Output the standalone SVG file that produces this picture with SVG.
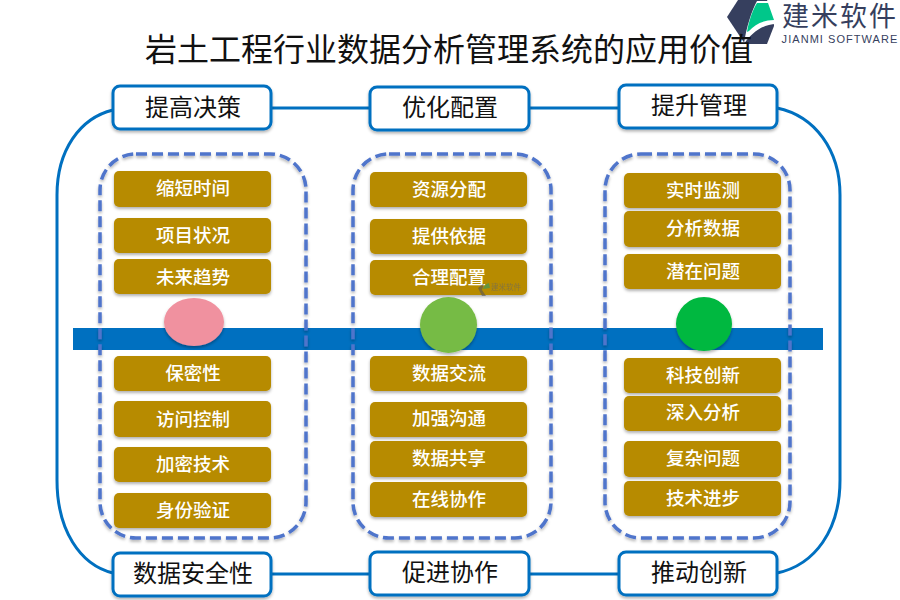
<svg xmlns="http://www.w3.org/2000/svg" width="900" height="600" viewBox="0 0 900 600">
<defs>
<filter id="sh" x="-10%" y="-20%" width="120%" height="150%"><feDropShadow dx="0" dy="2" stdDeviation="1.5" flood-color="#000" flood-opacity="0.3"/></filter>
</defs>
<style>
text{font-family:"Noto Sans CJK SC","Liberation Sans",sans-serif;text-anchor:middle}
.hb{fill:#fff;stroke:#0070c0;stroke-width:3;filter:url(#sh)}
.ht{font-size:24px;fill:#111}
.ib{fill:#b78b00;filter:url(#sh)}
.it{font-size:18.5px;fill:#fff;font-weight:500}
.dash{fill:none;stroke:#4f74cb;stroke-width:3.5;stroke-dasharray:11 5;filter:url(#sh)}
.link{fill:none;stroke:#0070c0;stroke-width:3}
</style>
<rect width="900" height="600" fill="#fff"/>
<g id="logo">
<path d="M738 0H767L774 17V26L767 44H745L727 17Z" fill="#363f5e"/>
<path d="M744 44C746 28 752 10 757 1H776V24C764 24 752 32 744 44Z" fill="#fff"/>
<path d="M747 32C749 20 753 9 757 3H768L774 20C764 20 755 24 749 31Z" fill="#00c78a"/>
<text x="840" y="26" style="font-size:27px;letter-spacing:2px" fill="#363f5e">建米软件</text>
<text x="840" y="43" style="font-family:'Liberation Sans',sans-serif;font-size:11px;letter-spacing:1.05px" fill="#363f5e">JIANMI SOFTWARE</text>
</g>
<text id="title" x="449" y="61" style="font-size:32px" fill="#111">岩土工程行业数据分析管理系统的应用价值</text>
<g id="connectors">
<path class="link" d="M113 110C80 118 57 150 57 195V480C57 530 80 565 113 573"/>
<path class="link" d="M271 108H370M529 108H619"/>
<path class="link" d="M271 574H370M529 574H619"/>
<path class="link" d="M777 108C815 116 840 150 840 195V480C840 530 815 565 777 573"/>
</g>
<rect id="band" x="73" y="328" width="750" height="22" fill="#0070c0"/>
<g id="group-1"><rect class="dash" x="100" y="154" width="206" height="384" rx="36"/></g>
<g id="group-2"><rect class="dash" x="353" y="154" width="198" height="384" rx="36"/></g>
<g id="group-3"><rect class="dash" x="605" y="154" width="185" height="384" rx="36"/></g>
<g id="h1"><rect class="hb" x="113" y="86" width="158" height="43" rx="7"/><text class="ht" x="193" y="116">提高决策</text></g>
<g id="h2"><rect class="hb" x="370" y="87" width="159" height="43" rx="7"/><text class="ht" x="450" y="116">优化配置</text></g>
<g id="h3"><rect class="hb" x="619" y="85" width="158" height="43" rx="7"/><text class="ht" x="699" y="114">提升管理</text></g>
<g id="h4"><rect class="hb" x="113" y="553" width="158" height="43" rx="7"/><text class="ht" x="193" y="582">数据安全性</text></g>
<g id="h5"><rect class="hb" x="370" y="552" width="159" height="43" rx="7"/><text class="ht" x="450" y="581">促进协作</text></g>
<g id="h6"><rect class="hb" x="619" y="552" width="158" height="43" rx="7"/><text class="ht" x="699" y="581">推动创新</text></g>
<g id="a1"><rect class="ib" x="114" y="171" width="157" height="36" rx="5"/><text class="it" x="193" y="195">缩短时间</text></g>
<g id="a2"><rect class="ib" x="114" y="218" width="157" height="35" rx="5"/><text class="it" x="193" y="242">项目状况</text></g>
<g id="a3"><rect class="ib" x="114" y="259" width="157" height="35" rx="5"/><text class="it" x="193" y="284">未来趋势</text></g>
<g id="a4"><rect class="ib" x="114" y="356" width="157" height="35" rx="5"/><text class="it" x="193" y="380">保密性</text></g>
<g id="a5"><rect class="ib" x="114" y="401" width="157" height="36" rx="5"/><text class="it" x="193" y="426">访问控制</text></g>
<g id="a6"><rect class="ib" x="114" y="447" width="157" height="35" rx="5"/><text class="it" x="193" y="471">加密技术</text></g>
<g id="a7"><rect class="ib" x="114" y="493" width="157" height="35" rx="5"/><text class="it" x="193" y="517">身份验证</text></g>
<g id="b1"><rect class="ib" x="370" y="172" width="157" height="35" rx="5"/><text class="it" x="449" y="196">资源分配</text></g>
<g id="b2"><rect class="ib" x="370" y="219" width="157" height="35" rx="5"/><text class="it" x="449" y="243">提供依据</text></g>
<g id="b3"><rect class="ib" x="370" y="260" width="157" height="35" rx="5"/><text class="it" x="449" y="284">合理配置</text></g>
<g id="b4"><rect class="ib" x="370" y="356" width="157" height="35" rx="5"/><text class="it" x="449" y="380">数据交流</text></g>
<g id="b5"><rect class="ib" x="370" y="402" width="157" height="35" rx="5"/><text class="it" x="449" y="425">加强沟通</text></g>
<g id="b6"><rect class="ib" x="370" y="441" width="157" height="36" rx="5"/><text class="it" x="449" y="465">数据共享</text></g>
<g id="b7"><rect class="ib" x="370" y="482" width="157" height="35" rx="5"/><text class="it" x="449" y="506">在线协作</text></g>
<g id="c1"><rect class="ib" x="624" y="173" width="157" height="35" rx="5"/><text class="it" x="703" y="197">实时监测</text></g>
<g id="c2"><rect class="ib" x="624" y="211" width="157" height="36" rx="5"/><text class="it" x="703" y="235">分析数据</text></g>
<g id="c3"><rect class="ib" x="624" y="254" width="157" height="35" rx="5"/><text class="it" x="703" y="278">潜在问题</text></g>
<g id="c4"><rect class="ib" x="624" y="358" width="157" height="35" rx="5"/><text class="it" x="703" y="382">科技创新</text></g>
<g id="c5"><rect class="ib" x="624" y="396" width="157" height="35" rx="5"/><text class="it" x="703" y="419">深入分析</text></g>
<g id="c6"><rect class="ib" x="624" y="441" width="157" height="36" rx="5"/><text class="it" x="703" y="465">复杂问题</text></g>
<g id="c7"><rect class="ib" x="624" y="481" width="157" height="35" rx="5"/><text class="it" x="703" y="505">技术进步</text></g>
<g id="dots">
<ellipse cx="194" cy="322" rx="30" ry="24" fill="#f0919f" filter="url(#sh)"/>
<ellipse cx="448.500" cy="325" rx="28.500" ry="28" fill="#76bb44" filter="url(#sh)"/>
<ellipse cx="704" cy="324" rx="28" ry="27" fill="#00b83f" filter="url(#sh)"/>
</g>
<g id="watermark" opacity="0.6">
<path d="M484 283L478 288L482 296L486 296L482 290Z" fill="#555"/>
<path d="M483 289C484 285 486 284 489 283L490 288Z" fill="#2e9c6a"/>
<text x="506" y="290" style="font-size:7.500px" fill="#666">建米软件</text>
</g>
</svg>
